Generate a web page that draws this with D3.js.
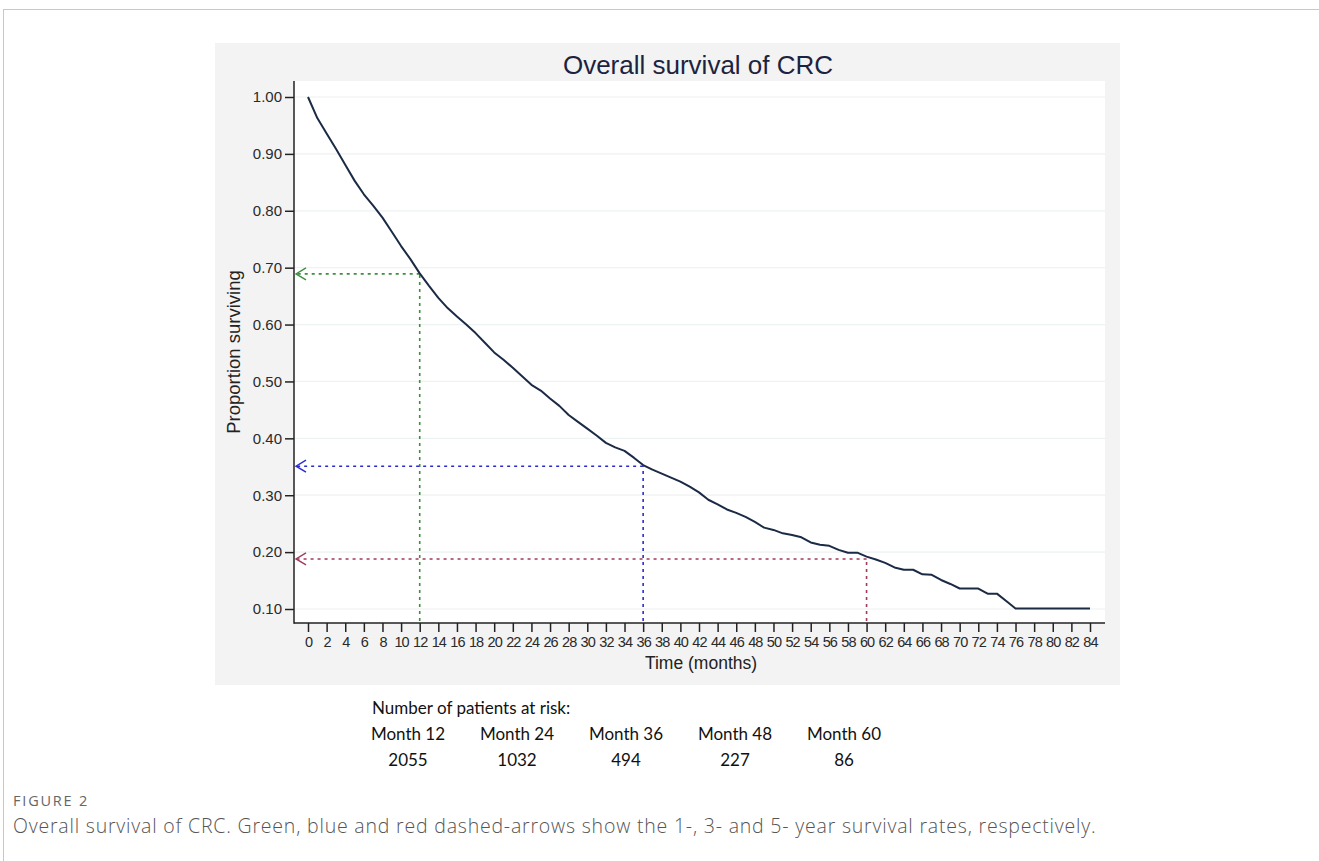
<!DOCTYPE html>
<html><head><meta charset="utf-8">
<script src="https://cdn.jsdelivr.net/npm/d3@7"></script>
<style>
html,body{margin:0;padding:0;background:#fff;}
svg{display:block;}
</style></head>
<body>
<svg id="c" width="1319" height="861"></svg>
<script>
// ---- data ----
const months = d3.range(0, 85);
const survival = [
 1.000,0.963,0.936,0.909,0.881,0.853,0.829,0.809,0.788,0.763,
 0.738,0.715,0.690,0.668,0.647,0.629,0.614,0.600,0.585,0.568,
 0.551,0.538,0.524,0.509,0.494,0.484,0.470,0.457,0.441,0.429,
 0.417,0.405,0.392,0.384,0.378,0.366,0.353,0.345,0.338,0.331,
 0.324,0.315,0.305,0.292,0.284,0.275,0.269,0.262,0.253,0.243,
 0.239,0.233,0.230,0.226,0.217,0.213,0.211,0.204,0.199,0.199,
 0.192,0.187,0.181,0.173,0.169,0.169,0.161,0.160,0.151,0.144,
 0.136,0.136,0.136,0.127,0.127,0.114,0.101,0.101,0.101,0.101,
 0.101,0.101,0.101,0.101,0.101];
const xTicks = d3.range(0, 85, 2);
const yTicks = [0.1,0.2,0.3,0.4,0.5,0.6,0.7,0.8,0.9,1.0];
const markMonths = [12, 36, 60];
const markRates = [0.689, 0.351, 0.188];
const markColors = ["#3f8f3f", "#2b2bd0", "#a03a5a"];
const riskLabels = ["Month 12","Month 24","Month 36","Month 48","Month 60"];
const riskCounts = [2055, 1032, 494, 227, 86];

const svg = d3.select("#c");
// page frame
svg.append("line").attr("x1",3).attr("x2",1319).attr("y1",9.5).attr("y2",9.5).attr("stroke","#c8c8c8");
svg.append("line").attr("x1",3.5).attr("x2",3.5).attr("y1",9).attr("y2",861).attr("stroke","#c8c8c8");

// panel
svg.append("rect").attr("x",215).attr("y",43).attr("width",905).attr("height",642).attr("fill","#f3f3f3");

const x = d3.scaleLinear().domain([0,84]).range([308,1090]);
const y = d3.scaleLinear().domain([0.1,1.0]).range([609,97]);
const plotL = 294, plotR = 1105, plotT = 81, plotB = 623;

svg.append("rect").attr("x",plotL).attr("y",plotT).attr("width",plotR-plotL).attr("height",plotB-plotT).attr("fill","#ffffff");

// gridlines
svg.append("g").selectAll("line").data(yTicks).join("line")
  .attr("x1",plotL).attr("x2",plotR).attr("y1",d=>y(d)).attr("y2",d=>y(d))
  .attr("stroke","#edf2f2").attr("stroke-width",1.2);

const af = "Liberation Sans, Arial, sans-serif";
// title
svg.append("text").attr("x",698).attr("y",74).attr("text-anchor","middle")
  .attr("font-family",af).attr("font-size",26).attr("fill","#1c2340")
  .text("Overall survival of CRC");

// axes
const yAxis = d3.axisLeft(y).tickValues(yTicks).tickFormat(d3.format(".2f")).tickSize(9).tickPadding(3);
const gy = svg.append("g").attr("transform",`translate(${plotL},0)`).call(yAxis);
gy.select(".domain").remove();
gy.selectAll("line").attr("stroke","#222").attr("stroke-width",1.5);
gy.selectAll("text").attr("font-family",af).attr("font-size",15).attr("fill","#2a2a2a");

const xAxis = d3.axisBottom(x).tickValues(xTicks).tickSize(9).tickPadding(5);
const gx = svg.append("g").attr("transform",`translate(0,${plotB})`).call(xAxis);
gx.select(".domain").remove();
gx.selectAll("line").attr("stroke","#222").attr("stroke-width",1.5);
gx.selectAll("text").attr("font-family",af).attr("font-size",14.5).attr("fill","#2a2a2a")
  .attr("letter-spacing","-0.9");

svg.append("line").attr("x1",plotL).attr("x2",plotL).attr("y1",plotT).attr("y2",plotB+0.75).attr("stroke","#222").attr("stroke-width",1.5);
svg.append("line").attr("x1",plotL).attr("x2",plotR).attr("y1",plotB).attr("y2",plotB).attr("stroke","#222").attr("stroke-width",1.5);

svg.append("text").attr("x",701).attr("y",669).attr("text-anchor","middle")
  .attr("font-family",af).attr("font-size",17.5).attr("fill","#222")
  .text("Time (months)");
svg.append("text").attr("transform","translate(240,352) rotate(-90)").attr("text-anchor","middle")
  .attr("font-family",af).attr("font-size",18.5).attr("fill","#222")
  .text("Proportion surviving");

// dashed reference arrows
markMonths.forEach((m,i)=>{
  const c = markColors[i], v = markRates[i];
  const g = svg.append("g").attr("stroke",c).attr("fill","none").attr("stroke-width",1.6);
  g.append("line").attr("x1",x(m)).attr("x2",x(m)).attr("y1",plotB-2).attr("y2",y(v))
    .attr("stroke-dasharray","3,4");
  g.append("line").attr("x1",x(m)).attr("x2",plotL+3).attr("y1",y(v)).attr("y2",y(v))
    .attr("stroke-dasharray","3,4");
  g.append("path").attr("d",`M${plotL+12},${y(v)-6} L${plotL+2},${y(v)} L${plotL+12},${y(v)+6}`)
    .attr("stroke-width",1.4);
});

// survival curve
const line = d3.line().x((d,i)=>x(months[i])).y(d=>y(d));
svg.append("path").datum(survival).attr("d",line).attr("fill","none")
  .attr("stroke","#1b2b45").attr("stroke-width",2).attr("stroke-linejoin","round");

// risk table
const tf = "Lato, 'Open Sans', sans-serif";
svg.append("text").attr("x",372).attr("y",714).attr("font-family",tf).attr("font-size",17).attr("fill","#111")
  .text("Number of patients at risk:");
const colX = d3.scalePoint().domain(riskLabels).range([408,844]);
svg.append("g").selectAll("text").data(riskLabels).join("text")
  .attr("x",d=>colX(d)).attr("y",740).attr("text-anchor","middle")
  .attr("font-family",tf).attr("font-size",17).attr("fill","#111").text(d=>d);
svg.append("g").selectAll("text").data(riskCounts).join("text")
  .attr("x",(d,i)=>colX(riskLabels[i])).attr("y",766).attr("text-anchor","middle")
  .attr("font-family",tf).attr("font-size",17).attr("fill","#111").text(d=>d);

// caption
svg.append("text").attr("x",13).attr("y",806).attr("font-family","'Open Sans', sans-serif")
  .attr("font-size",14.5).attr("letter-spacing",1.8).attr("fill","#666").text("FIGURE 2");
svg.append("text").attr("x",13).attr("y",833).attr("font-family","'Open Sans', sans-serif").attr("font-weight",300)
  .attr("font-size",19.5).attr("letter-spacing",0.8).attr("fill","#555")
  .text("Overall survival of CRC. Green, blue and red dashed-arrows show the 1-, 3- and 5- year survival rates, respectively.");
</script>
</body></html>
